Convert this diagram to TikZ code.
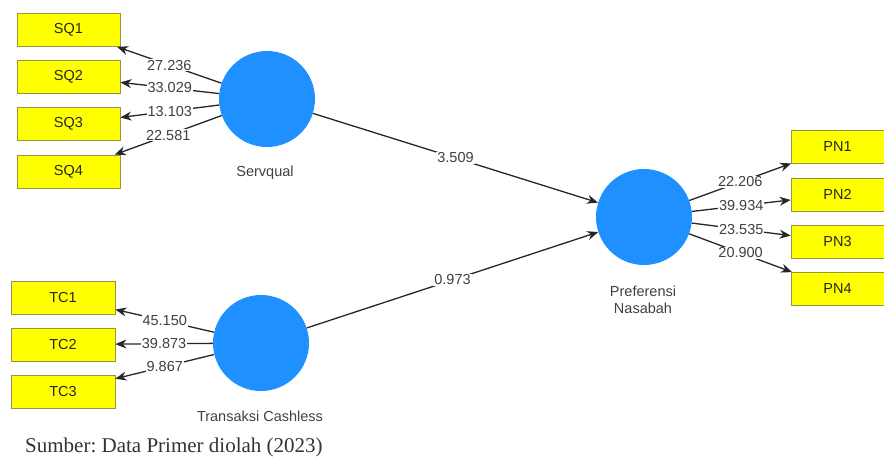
\documentclass[tikz,border=0pt]{standalone}
\usepackage{fontspec}
\setmainfont{Liberation Sans}
\newfontfamily\capfont{Liberation Serif}
\usetikzlibrary{arrows.meta}
\frenchspacing
\definecolor{lvblue}{RGB}{30,144,255}
\definecolor{indyellow}{RGB}{255,255,0}
\definecolor{indborder}{RGB}{150,150,60}
\definecolor{labgray}{RGB}{64,64,64}
\tikzset{
  lv/.style={circle,fill=lvblue,draw=none,minimum size=96pt,inner sep=0pt},
  ind/.style={rectangle,fill=indyellow,draw=indborder,line width=0.8pt,minimum height=33pt,inner sep=0pt,font=\fontsize{14.5}{14.5}\selectfont,text=black!85},
  lvlab/.style={font=\fontsize{14.5}{17}\selectfont,text=labgray,align=center},
  conn/.style={draw=black!85,line width=1.3pt,-{Stealth[length=11pt,width=9pt]}},
  val/.style={fill=white,inner sep=1pt,font=\fontsize{14.5}{14.5}\selectfont,text=labgray}
}
\begin{document}
\begin{tikzpicture}[x=1pt,y=-1pt]
\useasboundingbox (0,0) rectangle (884,456);
% latent variables
\node[lv] (sq) at (267,99) {};
\node[lv] (tc) at (261,343) {};
\node[lv] (pn) at (644,217) {};
\node[lvlab] (sqlab) at (265,173) {Servqual};
\node[lvlab] (tclab) at (260,416) {Transaksi Cashless};
\node[lvlab] (pnlab) at (643,300) {Preferensi\\Nasabah};
% indicators
\node[ind,minimum width=103pt] (sq1) at (68.5,30) {SQ1};
\node[ind,minimum width=103pt] (sq2) at (68.5,76.5) {SQ2};
\node[ind,minimum width=103pt] (sq3) at (68.5,124) {SQ3};
\node[ind,minimum width=103pt] (sq4) at (68.5,171.5) {SQ4};
\node[ind,minimum width=104pt] (tc1) at (63,297.5) {TC1};
\node[ind,minimum width=104pt] (tc2) at (63,344.5) {TC2};
\node[ind,minimum width=104pt] (tc3) at (63,391.5) {TC3};
\node[ind,minimum width=93pt] (pn1) at (837.5,146.5) {PN1};
\node[ind,minimum width=93pt] (pn2) at (837.5,194.5) {PN2};
\node[ind,minimum width=93pt] (pn3) at (837.5,241.5) {PN3};
\node[ind,minimum width=93pt] (pn4) at (837.5,289) {PN4};
% outer loadings
\draw[conn] (sq) -- node[val] {27.236} (sq1);
\draw[conn] (sq) -- node[val] {33.029} (sq2);
\draw[conn] (sq) -- node[val] {13.103} (sq3);
\draw[conn] (sq) -- node[val] {22.581} (sq4);
\draw[conn] (tc) -- node[val] {45.150} (tc1);
\draw[conn] (tc) -- node[val] {39.873} (tc2);
\draw[conn] (tc) -- node[val] {9.867} (tc3);
\draw[conn] (pn) -- node[val] {22.206} (pn1);
\draw[conn] (pn) -- node[val] {39.934} (pn2);
\draw[conn] (pn) -- node[val] {23.535} (pn3);
\draw[conn] (pn) -- node[val] {20.900} (pn4);
% inner paths
\draw[conn] (sq) -- node[val] {3.509} (pn);
\draw[conn] (tc) -- node[val] {0.973} (pn);
% caption
\node[anchor=base west,inner sep=0pt,font=\capfont\fontsize{21}{21}\selectfont,text=black!80] (cap) at (25,452) {Sumber: Data Primer diolah (2023)};
\end{tikzpicture}
\end{document}
